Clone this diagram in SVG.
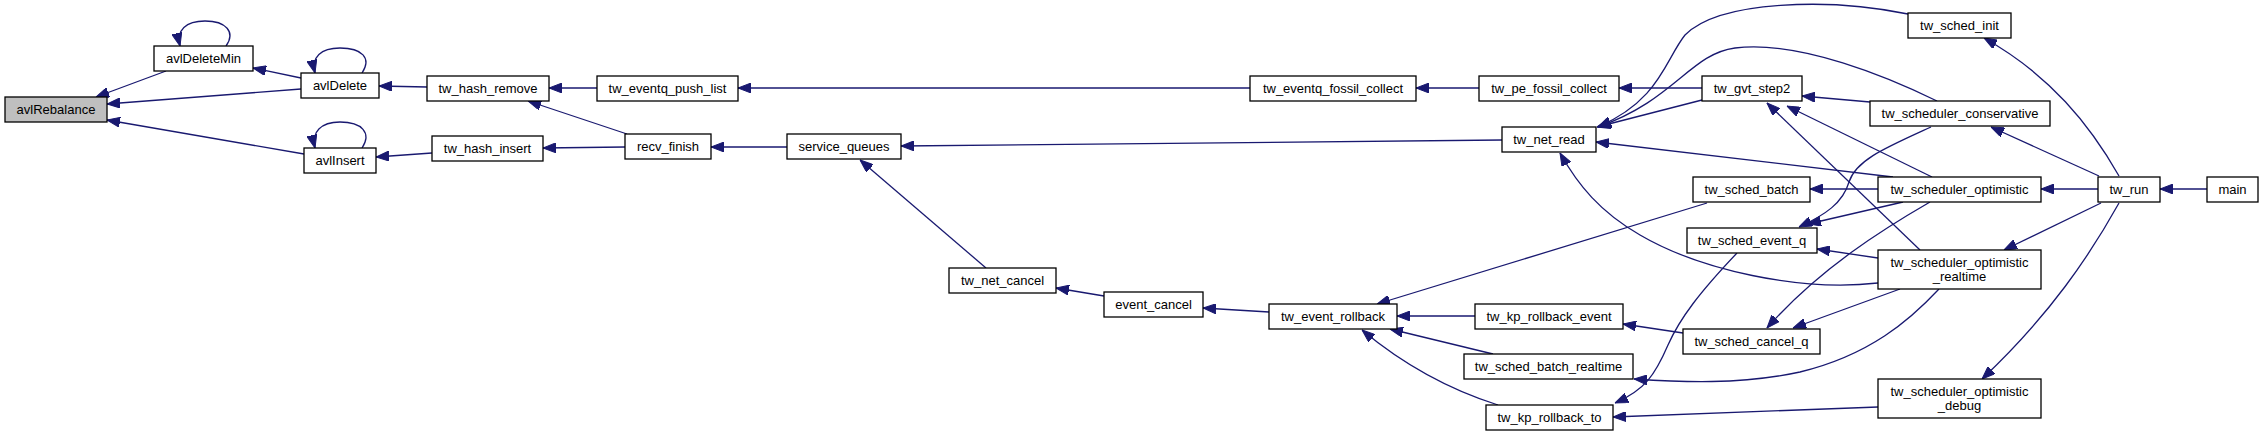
<svg xmlns="http://www.w3.org/2000/svg" width="2264" height="436" viewBox="0 0 2264 436">
<style>
.node rect{fill:#fff;stroke:#000;stroke-width:1.3}
.node text{font-family:"Liberation Sans",Arial,sans-serif;font-size:13px;text-anchor:middle;fill:#000}
#n_avlRebalance rect{fill:#bfbfbf}
.edges path{fill:none;stroke:#191970;stroke-width:1.3;marker-end:url(#arr)}
</style>
<defs>
<marker id="arr" viewBox="0 0 13 10" refX="13" refY="5" markerWidth="13" markerHeight="10" markerUnits="userSpaceOnUse" orient="auto">
<path d="M0,0 L13,5 L0,10 z" fill="#191970" stroke="#191970" stroke-width="1"/>
</marker>
</defs>
<rect width="2264" height="436" fill="#fff"/>
<g class="edges">
<path d="M166,71 L96,97"/>
<path d="M301,89 L107,104"/>
<path d="M304,154 L107,120"/>
<path d="M301,78 L253,68"/>
<path d="M226,46 C236,32 226,21 205,21 C186,21 176,30 180,46"/>
<path d="M362,73 C372,58 362,48 340,48 C321,48 311,57 315,73"/>
<path d="M362,148 C372,133 362,122 340,122 C321,122 311,132 315,148"/>
<path d="M427,87 L379,86"/>
<path d="M432,153 L376,157"/>
<path d="M597,88 L549,88"/>
<path d="M627,134 L528,101"/>
<path d="M625,147 L543,148"/>
<path d="M1250,88 L738,88"/>
<path d="M787,147 L711,147"/>
<path d="M1502,140 L901,146"/>
<path d="M986,268 L860,160"/>
<path d="M1104,296 L1056,288"/>
<path d="M1269,312 L1203,308"/>
<path d="M1479,88 L1416,88"/>
<path d="M1475,316 L1397,316"/>
<path d="M1493,354 L1390,329"/>
<path d="M1498,405 C1460,393 1410,370 1362,330"/>
<path d="M1707,203 L1377,304"/>
<path d="M1702,88 L1619,88"/>
<path d="M1702,100 L1597,127"/>
<path d="M1908,14 C1830,-2 1720,0 1685,35 C1665,60 1660,100 1598,127"/>
<path d="M1937,101 C1890,78 1800,40 1735,48 C1690,54 1675,100 1598,127"/>
<path d="M1893,177 L1596,142"/>
<path d="M1878,283 C1800,292 1700,270 1640,235 C1600,212 1578,185 1560,153"/>
<path d="M1870,102 L1802,96"/>
<path d="M1932,177 L1787,106"/>
<path d="M1920,250 L1767,103"/>
<path d="M1878,189 L1810,189"/>
<path d="M1931,127 C1885,148 1856,160 1849,182 C1843,203 1825,215 1799,227"/>
<path d="M1903,202 L1808,224"/>
<path d="M1878,258 L1817,249"/>
<path d="M1930,202 C1885,228 1820,268 1767,328"/>
<path d="M1900,289 L1793,328"/>
<path d="M1939,289 C1910,320 1870,355 1800,372 C1740,385 1680,382 1634,379"/>
<path d="M1683,333 L1623,324"/>
<path d="M1737,253 C1700,292 1680,318 1668,345 C1655,375 1645,390 1615,403"/>
<path d="M1878,407 L1613,417"/>
<path d="M2119,176 C2090,125 2050,75 1984,38"/>
<path d="M2099,176 L1991,127"/>
<path d="M2098,189 L2041,189"/>
<path d="M2101,203 L2004,250"/>
<path d="M2119,203 C2090,255 2050,315 1982,379"/>
<path d="M2207,189 L2160,189"/>
</g>
<g id="n_avlRebalance" class="node"><rect x="5" y="97" width="102" height="25"/><text x="56" y="114">avlRebalance</text></g>
<g id="n_avlDeleteMin" class="node"><rect x="154" y="46" width="99" height="25"/><text x="203.5" y="63">avlDeleteMin</text></g>
<g id="n_avlDelete" class="node"><rect x="301" y="73" width="78" height="25"/><text x="340" y="90">avlDelete</text></g>
<g id="n_avlInsert" class="node"><rect x="304" y="148" width="72" height="25"/><text x="340" y="165">avlInsert</text></g>
<g id="n_tw_hash_remove" class="node"><rect x="427" y="76" width="122" height="25"/><text x="488" y="93">tw_hash_remove</text></g>
<g id="n_tw_hash_insert" class="node"><rect x="432" y="136" width="111" height="25"/><text x="487.5" y="153">tw_hash_insert</text></g>
<g id="n_tw_eventq_push_list" class="node"><rect x="597" y="76" width="141" height="25"/><text x="667.5" y="93">tw_eventq_push_list</text></g>
<g id="n_recv_finish" class="node"><rect x="625" y="134" width="86" height="25"/><text x="668" y="151">recv_finish</text></g>
<g id="n_service_queues" class="node"><rect x="787" y="134" width="114" height="25"/><text x="844" y="151">service_queues</text></g>
<g id="n_tw_net_cancel" class="node"><rect x="949" y="268" width="107" height="25"/><text x="1002.5" y="285">tw_net_cancel</text></g>
<g id="n_event_cancel" class="node"><rect x="1104" y="292" width="99" height="25"/><text x="1153.5" y="309">event_cancel</text></g>
<g id="n_tw_eventq_fossil_collect" class="node"><rect x="1250" y="76" width="166" height="25"/><text x="1333" y="93">tw_eventq_fossil_collect</text></g>
<g id="n_tw_event_rollback" class="node"><rect x="1269" y="304" width="128" height="25"/><text x="1333" y="321">tw_event_rollback</text></g>
<g id="n_tw_pe_fossil_collect" class="node"><rect x="1479" y="76" width="140" height="25"/><text x="1549" y="93">tw_pe_fossil_collect</text></g>
<g id="n_tw_net_read" class="node"><rect x="1502" y="127" width="94" height="25"/><text x="1549" y="144">tw_net_read</text></g>
<g id="n_tw_kp_rollback_event" class="node"><rect x="1475" y="304" width="148" height="25"/><text x="1549" y="321">tw_kp_rollback_event</text></g>
<g id="n_tw_sched_batch_realtime" class="node"><rect x="1464" y="354" width="169" height="25"/><text x="1548.5" y="371">tw_sched_batch_realtime</text></g>
<g id="n_tw_kp_rollback_to" class="node"><rect x="1486" y="405" width="127" height="25"/><text x="1549.5" y="422">tw_kp_rollback_to</text></g>
<g id="n_tw_gvt_step2" class="node"><rect x="1702" y="76" width="100" height="25"/><text x="1752" y="93">tw_gvt_step2</text></g>
<g id="n_tw_sched_batch" class="node"><rect x="1693" y="177" width="117" height="25"/><text x="1751.5" y="194">tw_sched_batch</text></g>
<g id="n_tw_sched_event_q" class="node"><rect x="1687" y="228" width="130" height="25"/><text x="1752" y="245">tw_sched_event_q</text></g>
<g id="n_tw_sched_cancel_q" class="node"><rect x="1683" y="329" width="137" height="25"/><text x="1751.5" y="346">tw_sched_cancel_q</text></g>
<g id="n_tw_sched_init" class="node"><rect x="1908" y="13" width="103" height="25"/><text x="1959.5" y="30">tw_sched_init</text></g>
<g id="n_tw_scheduler_conservative" class="node"><rect x="1870" y="101" width="180" height="25"/><text x="1960" y="118">tw_scheduler_conservative</text></g>
<g id="n_tw_scheduler_optimistic" class="node"><rect x="1878" y="177" width="163" height="25"/><text x="1959.5" y="194">tw_scheduler_optimistic</text></g>
<g id="n_tw_scheduler_optimistic_realtime" class="node"><rect x="1878" y="250" width="163" height="39"/><text x="1959.5" y="267">tw_scheduler_optimistic</text><text x="1959.5" y="281">_realtime</text></g>
<g id="n_tw_scheduler_optimistic_debug" class="node"><rect x="1878" y="379" width="163" height="39"/><text x="1959.5" y="396">tw_scheduler_optimistic</text><text x="1959.5" y="410">_debug</text></g>
<g id="n_tw_run" class="node"><rect x="2098" y="177" width="62" height="25"/><text x="2129" y="194">tw_run</text></g>
<g id="n_main" class="node"><rect x="2207" y="177" width="51" height="25"/><text x="2232.5" y="194">main</text></g>
</svg>
